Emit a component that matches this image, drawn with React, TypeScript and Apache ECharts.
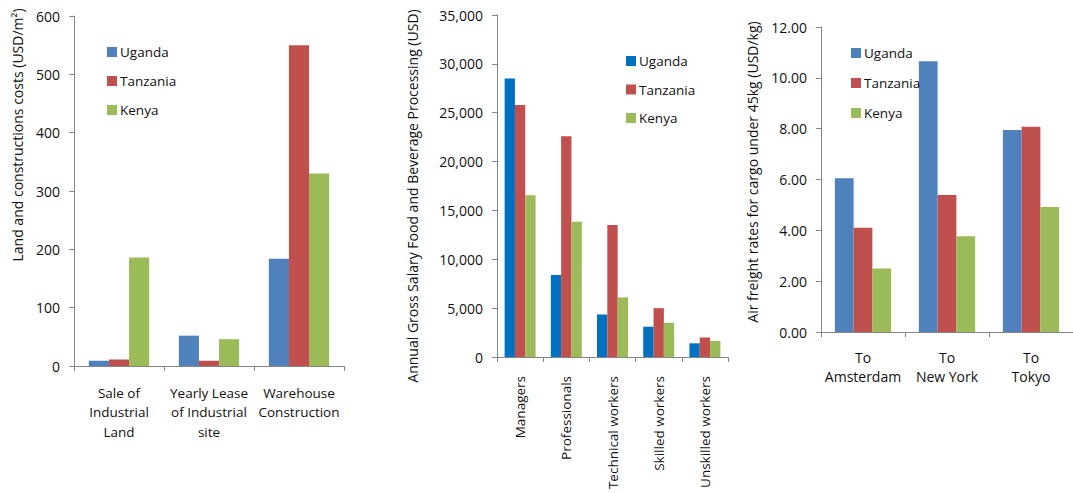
import React, { useEffect, useRef } from "react";
import * as echarts from "echarts";

const seriesNames = ["Uganda", "Tanzania", "Kenya"];

const landCategories = ["Sale of\nIndustrial\nLand", "Yearly Lease\nof Industrial\nsite", "Warehouse\nConstruction"];
const landUganda = [9, 52, 184];
const landTanzania = [11, 9, 550];
const landKenya = [186, 46, 330];

const salaryCategories = ["Managers", "Professionals", "Technical workers", "Skilled workers", "Unskilled workers"];
const salaryUganda = [28500, 8400, 4350, 3100, 1400];
const salaryTanzania = [25800, 22600, 13500, 5000, 2000];
const salaryKenya = [16550, 13850, 6100, 3500, 1650];

const freightCategories = ["To\nAmsterdam", "To\nNew York", "To\nTokyo"];
const freightUganda = [6.05, 10.65, 7.95];
const freightTanzania = [4.1, 5.39, 8.08];
const freightKenya = [2.5, 3.77, 4.92];

const FONT = "Open Sans";
const BLUE = "#4F81BD";
const BLUE2 = "#0070C0";
const RED = "#C0504D";
const GREEN = "#9BBB59";
const AXIS = "#868686";
const TXT = "#111111";

export default function App() {
  const ref = useRef<HTMLDivElement>(null);
  useEffect(() => {
    if (!ref.current) return;
    const chart = echarts.init(ref.current, null, { renderer: "svg" });

    const axisLine = { show: true, lineStyle: { color: AXIS, width: 1 } };
    const axisTick = { show: true, length: 5, lineStyle: { color: AXIS } };
    const grids = [
      { left: 74, top: 16, width: 270, height: 350 },
      { left: 497, top: 15, width: 231, height: 342 },
      { left: 821, top: 27, width: 262, height: 305 },
    ];
    const xAxis = [
      {
        type: "category", gridIndex: 0, data: landCategories, axisLine, axisTick,
        axisLabel: { interval: 0, fontFamily: FONT, fontSize: 13.5, color: TXT, lineHeight: 19.5, margin: 17 },
      },
      {
        type: "category", gridIndex: 1, data: salaryCategories, axisLine, axisTick,
        axisLabel: { interval: 0, rotate: 90, fontFamily: FONT, fontSize: 13.5, color: TXT, margin: 19 },
      },
      {
        type: "category", gridIndex: 2, data: freightCategories, axisLine, axisTick,
        axisLabel: { interval: 0, fontFamily: FONT, fontSize: 14, color: TXT, lineHeight: 19, margin: 16 },
      },
    ];
    const yCommon = { type: "value", axisLine, axisTick, splitLine: { show: false } };
    const yAxis = [
      { ...yCommon, gridIndex: 0, min: 0, max: 600, interval: 100,
        axisLabel: { fontFamily: FONT, fontSize: 14, color: TXT, margin: 14 } },
      { ...yCommon, gridIndex: 1, min: 0, max: 35000, interval: 5000,
        axisLabel: { fontFamily: FONT, fontSize: 14, color: TXT, margin: 14,
          formatter: (v: number) => v.toLocaleString("en-US") } },
      { ...yCommon, gridIndex: 2, min: 0, max: 12, interval: 2,
        axisLabel: { fontFamily: FONT, fontSize: 14, color: TXT, margin: 14,
          formatter: (v: number) => v.toFixed(2) } },
    ];
    const mk = (name: string, idx: number, data: number[], color: string) => ({
      type: "bar", name, xAxisIndex: idx, yAxisIndex: idx, data,
      barGap: "0%", barCategoryGap: "33%",
      itemStyle: { color }, emphasis: { disabled: true },
    });
    const series = [
      mk("Uganda", 0, landUganda, BLUE),
      mk("Tanzania", 0, landTanzania, RED),
      mk("Kenya", 0, landKenya, GREEN),
      mk("Uganda", 1, salaryUganda, BLUE2),
      mk("Tanzania", 1, salaryTanzania, RED),
      mk("Kenya", 1, salaryKenya, GREEN),
      mk("Uganda", 2, freightUganda, BLUE),
      mk("Tanzania", 2, freightTanzania, RED),
      mk("Kenya", 2, freightKenya, GREEN),
    ];
    const legendColors = [
      [BLUE, RED, GREEN],
      [BLUE2, RED, GREEN],
      [BLUE, RED, GREEN],
    ];
    const legendPos = [
      { left: 102, top: 40, itemGap: 15 },
      { left: 621, top: 49, itemGap: 14.5 },
      { left: 846, top: 41, itemGap: 16 },
    ];
    const legend = legendPos.map((p, i) => ({
      ...p, orient: "vertical", itemWidth: 10, itemHeight: 10,
      icon: "rect", selectedMode: false,
      textStyle: { fontFamily: FONT, fontSize: 13.5, color: TXT, padding: [0, 0, 0, -2] },
      data: seriesNames.map((n, j) => ({ name: n, itemStyle: { color: legendColors[i][j] } })),
    }));
    const titleStyle = { fontFamily: FONT, fontSize: 14, fill: TXT, align: "center", verticalAlign: "middle" };
    const graphic = [
      { type: "text", x: 17, y: 135, rotation: Math.PI / 2,
        style: { ...titleStyle, text: "Land and constructions costs (USD/m²)" } },
      { type: "text", x: 412, y: 196, rotation: Math.PI / 2,
        style: { ...titleStyle, text: "Annual Gross Salary Food and Beverage Processing (USD)" } },
      { type: "text", x: 752, y: 172, rotation: Math.PI / 2,
        style: { ...titleStyle, text: "Air freight rates for cargo under 45kg (USD/kg)" } },
    ];
    chart.setOption({
      animation: false,
      backgroundColor: "#ffffff",
      grid: grids,
      xAxis,
      yAxis,
      series,
      legend,
      graphic,
    });
    return () => chart.dispose();
  }, []);
  return <div ref={ref} style={{ position: "fixed", left: 0, top: 0, width: 1073, height: 493 }} />;
}
